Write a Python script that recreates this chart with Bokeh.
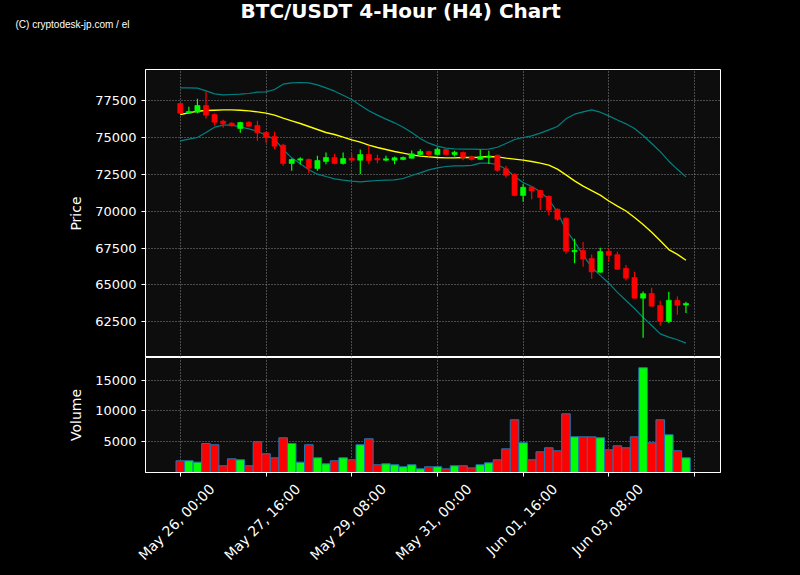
import math
from bokeh.plotting import figure
from bokeh.models import ColumnDataSource, FixedTicker, Range1d, Title, LinearAxis
from bokeh.layouts import column
from bokeh.embed import file_html
from bokeh.resources import INLINE

# ---------------- data ----------------
x_tick_pos = [0, 10, 20, 30, 40, 50, 60]
x_tick_labels = ["May 26, 00:00", "May 27, 16:00", "May 29, 08:00", "May 31, 00:00",
                 "Jun 01, 16:00", "Jun 03, 08:00", ""]
price_ticks = [62500, 65000, 67500, 70000, 72500, 75000, 77500]
volume_ticks = [5000, 10000, 15000]

opens = [77317, 76661, 76728, 77181, 76570, 76117, 75982, 75620, 76050, 75824,
         75348, 75077, 74489, 73244, 73471, 73516, 72905, 73380, 73652, 73244,
         73606, 73471, 73855, 73584, 73471, 73471, 73516, 73606, 73855, 74059,
         73855, 74195, 73855, 73991, 73697, 73530, 73677, 73800, 72880, 72500,
         71075, 71650, 71413, 71018, 70147, 69525, 67250, 67341, 66800, 65871,
         67285, 67058, 66130, 65509, 64106, 64423, 63609, 62524, 63960, 63632]
closes = [76661, 76774, 77181, 76525, 76050, 75937, 75800, 76027, 75778, 75326,
          75009, 74421, 73244, 73516, 73561, 72928, 73448, 73652, 73244, 73584,
          73471, 73855, 73448, 73493, 73561, 73629, 73652, 73901, 74059, 73855,
          74217, 73855, 74014, 73652, 73516, 73710, 73745, 72780, 72445, 71075,
          71630, 71380, 70938, 70080, 69457, 67296, 67350, 66765, 65883, 67274,
          67013, 66063, 65464, 64106, 64412, 63563, 62535, 63960, 63620, 63745]
highs = [77330, 77091, 77634, 78109, 76661, 76208, 76050, 76073, 76095, 76141,
         75416, 75394, 74580, 73584, 73674, 73584, 73765, 73991, 73901, 73991,
         73923, 74195, 74444, 73833, 73765, 73720, 73720, 74127, 74217, 74104,
         74330, 74230, 74104, 74059, 73765, 74185, 74117, 73857, 73075, 72590,
         71845, 71700, 71460, 71070, 70190, 69600, 68133, 67920, 67070, 67534,
         67500, 67252, 66357, 65905, 64559, 64808, 63926, 64548, 64209, 63858]
lows = [76640, 76650, 76661, 76299, 75801, 75665, 75750, 75326, 75733, 74783,
        74647, 74217, 73086, 72747, 73177, 72588, 72747, 73199, 73199, 73177,
        73403, 72520, 73199, 73267, 73403, 73199, 73471, 73590, 73788, 73720,
        73840, 73830, 73720, 73471, 73448, 73496, 73212, 72690, 72273, 71030,
        70655, 70815, 70090, 69728, 69366, 67115, 66470, 66245, 65420, 65830,
        66618, 66040, 65295, 64090, 61415, 63530, 62241, 62422, 62985, 63100]
volumes = [1900, 1900, 1680, 4710, 4500, 1090, 2220, 2060, 1090, 4980,
           3040, 2380, 5630, 4710, 1680, 4500, 2380, 1410, 1900, 2380,
           2060, 4500, 5470, 1250, 1410, 1250, 930, 1250, 600, 930,
           930, 600, 1090, 1090, 750, 1250, 1570, 2060, 3840, 8550,
           4820, 2060, 3360, 4010, 3520, 9520, 5790, 5790, 5790, 5630,
           3680, 4330, 4010, 5790, 16990, 4820, 8550, 6110, 3520, 2380]
bb_upper = [78380, 78380, 78357, 78177, 77973, 77905, 77928, 77950, 77995, 78086,
            78109, 78267, 78629, 78720, 78742, 78720, 78584, 78380, 78154, 77882,
            77588, 77204, 76820, 76526, 76254, 76005, 75711, 75349, 74941, 74624,
            74421, 74285, 74240, 74217, 74217, 74200, 74220, 74350, 74600, 74873,
            75009, 75122, 75303, 75530, 75756, 76276, 76593, 76751, 76880, 76728,
            76480, 76200, 75937, 75620, 75145, 74602, 74050, 73400, 72850, 72340]
bb_middle = [76570, 76683, 76796, 76842, 76864, 76887, 76887, 76864, 76819, 76751,
             76661, 76525, 76321, 76140, 75959, 75756, 75552, 75348, 75213, 75032,
             74851, 74692, 74489, 74330, 74195, 74059, 73946, 73833, 73742, 73697,
             73652, 73629, 73629, 73652, 73652, 73674, 73720, 73697, 73606, 73539,
             73471, 73380, 73267, 73131, 72860, 72476, 72068, 71706, 71400, 71100,
             70700, 70350, 70020, 69580, 69105, 68580, 68000, 67400, 67080, 66680]
bb_lower = [74783, 74896, 75009, 75348, 75710, 75846, 75846, 75733, 75598, 75439,
            75167, 74896, 74195, 73629, 73222, 72815, 72520, 72360, 72204, 72113,
            72045, 72000, 72045, 72091, 72113, 72136, 72227, 72430, 72611, 72815,
            72951, 73041, 73086, 73086, 73120, 73267, 73267, 73177, 72860, 72362,
            71955, 71684, 71322, 70801, 69941, 68743, 67928, 67046, 66200, 65650,
            65120, 64500, 63950, 63400, 62800, 62250, 61680, 61460, 61280, 61050]

# ---------------- styling ----------------
UP, DOWN = "#00ff00", "#ff0000"
BG, PANEL = "#000000", "#0d0d0d"
FONT = "DejaVu Sans"

idx = list(range(len(opens)))
colors = [UP if c >= o else DOWN for o, c in zip(opens, closes)]
src = ColumnDataSource(dict(
    x=idx, high=highs, low=lows,
    top=[max(o, c) for o, c in zip(opens, closes)],
    bottom=[min(o, c) for o, c in zip(opens, closes)],
    color=colors, vol=volumes,
))

W = 800
LEFT, RIGHT = 145, 80
X0, X1 = -4.06, 63.03
x_range = Range1d(X0, X1)
LABEL_SHIFT = 3.7   # rotated date labels are centred on their ticks (label end sits right of tick)


def style(fig):
    fig.background_fill_color = PANEL
    fig.border_fill_color = BG
    fig.outline_line_color = "white"
    fig.outline_line_width = 1
    for g in (fig.xgrid, fig.ygrid):
        g.grid_line_color = "#8a8a8a"
        g.grid_line_dash = "1 2"
        g.grid_line_width = 1
    fig.xgrid.ticker = FixedTicker(ticks=x_tick_pos)
    for ax in fig.axis:
        ax.axis_line_color = "white"
        ax.major_tick_line_color = "white"
        ax.major_tick_out = 4
        ax.major_tick_in = 0
        ax.minor_tick_line_color = None
        ax.major_label_text_color = "white"
        ax.major_label_text_font = FONT
        ax.major_label_text_font_size = "13px"
        ax.axis_label_text_color = "white"
        ax.axis_label_text_font = FONT
        ax.axis_label_text_font_size = "14px"
        ax.axis_label_text_font_style = "normal"
        ax.axis_label_standoff = 8


# header strip: frame aligned with the panels below (x 145..720)
h = figure(width=W, height=69, x_range=Range1d(0, 1), y_range=Range1d(0, 1),
           output_backend="svg", toolbar_location=None,
           min_border_left=0, min_border_right=0, min_border_top=0, min_border_bottom=0)
h.axis.visible = False
h.grid.visible = False
h.outline_line_color = None
h.background_fill_color = BG
h.border_fill_color = BG

credit = Title(text="(C) cryptodesk-jp.com / el", text_color="white",
               text_font="Liberation Sans", text_font_size="10px", text_font_style="normal",
               align="left", offset=15 - LEFT, vertical_align="top", standoff=0)
main_title = Title(text="BTC/USDT 4-Hour (H4) Chart", text_color="white",
                   text_font=FONT, text_font_size="20px", text_font_style="bold",
                   align="left", offset=240 - LEFT, vertical_align="bottom", standoff=-8)
h.add_layout(credit, "above")
h.add_layout(main_title, "above")

p = figure(width=W, height=288, x_range=x_range, y_range=Range1d(60077, 79625),
           output_backend="svg", toolbar_location=None,
           min_border_left=LEFT, min_border_right=RIGHT, min_border_top=0, min_border_bottom=0)
p.xaxis.visible = False
p.yaxis.ticker = FixedTicker(ticks=price_ticks)
p.yaxis.axis_label = "Price"
style(p)

p.line(idx, bb_upper, line_color="#008080", line_width=1.2)
p.line(idx, bb_lower, line_color="#008080", line_width=1.2)
p.line(idx, bb_middle, line_color="#ffff00", line_width=1.4)
p.segment(x0="x", y0="high", x1="x", y1="low", line_color="color", line_width=1.2, source=src)
p.vbar(x="x", width=0.6, top="top", bottom="bottom", fill_color="color",
       line_color="color", line_width=0.6, source=src)

v = figure(width=W, height=217, x_range=x_range, y_range=Range1d(0, 18650),
           output_backend="svg", toolbar_location=None,
           min_border_left=LEFT, min_border_right=RIGHT, min_border_top=0, min_border_bottom=102)
v.extra_x_ranges = {"labels": Range1d(X0 - LABEL_SHIFT, X1 - LABEL_SHIFT)}
v.vbar(x="x", width=1.0, top="vol", bottom=0, fill_color="color",
       line_color="#1f77b4", line_width=1, source=src)
v.yaxis.ticker = FixedTicker(ticks=volume_ticks)
v.yaxis.axis_label = "Volume"
v.xaxis.ticker = FixedTicker(ticks=x_tick_pos)
v.xaxis.major_label_overrides = {t: "" for t in x_tick_pos}
style(v)
v.xaxis.major_label_standoff = 0

# label-only axis (date labels, rotated 45 degrees)
lab = LinearAxis(x_range_name="labels", ticker=FixedTicker(ticks=x_tick_pos))
lab.major_label_overrides = {t: l for t, l in zip(x_tick_pos, x_tick_labels)}
lab.major_label_orientation = math.pi / 4
lab.axis_line_color = None
lab.major_tick_line_color = None
lab.minor_tick_line_color = None
lab.major_tick_out = 0
lab.major_tick_in = 0
lab.major_label_standoff = 10
lab.major_label_text_color = "white"
lab.major_label_text_font = FONT
lab.major_label_text_font_size = "14px"
v.add_layout(lab, "below")

layout = column(h, p, v, spacing=0)
layout.background = BG

html = file_html(layout, INLINE, title="BTC/USDT 4-Hour (H4) Chart")
html = html.replace("</head>", "<style>html, body { background: #000000; }</style></head>", 1)
open("out.html", "w").write(html)
